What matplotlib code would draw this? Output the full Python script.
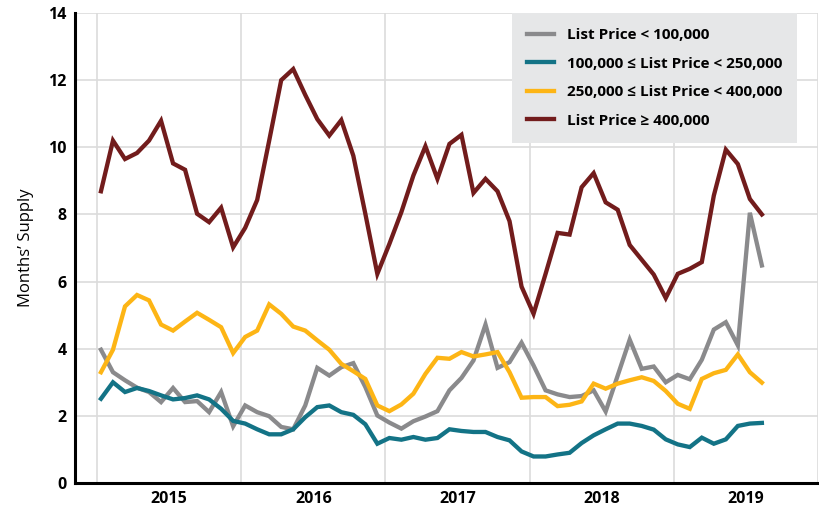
import numpy as np
import matplotlib.pyplot as plt

# monthly months'-supply values, Jan 2015 .. Aug 2019
under_100k = [3.97, 3.3, 3.06, 2.84, 2.71, 2.41, 2.83, 2.41, 2.44, 2.11, 2.71, 1.69,
              2.31, 2.11, 1.99, 1.67, 1.6, 2.31, 3.43, 3.2, 3.45, 3.57, 2.86, 2.01,
              1.8, 1.62, 1.84, 1.98, 2.14, 2.76, 3.13, 3.65, 4.72, 3.43, 3.6, 4.18,
              3.5, 2.76, 2.64, 2.56, 2.59, 2.76, 2.13, 3.2, 4.27, 3.4, 3.47, 3.0,
              3.22, 3.09, 3.67, 4.57, 4.79, 4.1, 8.05, 6.48]
p100_250k = [2.51, 3.0, 2.71, 2.83, 2.74, 2.61, 2.49, 2.53, 2.61, 2.49, 2.21, 1.85,
             1.77, 1.6, 1.45, 1.45, 1.6, 1.96, 2.26, 2.31, 2.11, 2.03, 1.75, 1.17,
             1.34, 1.29, 1.37, 1.29, 1.34, 1.6, 1.55, 1.52, 1.52, 1.37, 1.27, 0.94,
             0.79, 0.79, 0.85, 0.9, 1.19, 1.42, 1.6, 1.77, 1.77, 1.7, 1.59, 1.3,
             1.15, 1.07, 1.35, 1.17, 1.3, 1.7, 1.77, 1.79]
p250_400k = [3.3, 3.97, 5.26, 5.6, 5.44, 4.72, 4.54, 4.81, 5.07, 4.86, 4.64, 3.87,
             4.35, 4.54, 5.32, 5.04, 4.66, 4.54, 4.25, 3.97, 3.55, 3.33, 3.1, 2.31,
             2.14, 2.34, 2.66, 3.25, 3.73, 3.7, 3.9, 3.77, 3.83, 3.9, 3.3, 2.54,
             2.56, 2.56, 2.29, 2.33, 2.43, 2.96, 2.81, 2.96, 3.06, 3.15, 3.04, 2.74,
             2.36, 2.21, 3.1, 3.27, 3.37, 3.83, 3.3, 2.99]
over_400k = [8.69, 10.2, 9.65, 9.83, 10.2, 10.79, 9.52, 9.33, 8.02, 7.77, 8.2, 7.02,
             7.6, 8.43, 10.2, 12.0, 12.33, 11.56, 10.84, 10.35, 10.81, 9.75, 8.02, 6.23,
             7.12, 8.07, 9.16, 10.03, 9.06, 10.1, 10.37, 8.64, 9.06, 8.69, 7.8, 5.85,
             5.04, 6.23, 7.45, 7.4, 8.81, 9.23, 8.36, 8.14, 7.09, 6.65, 6.21, 5.51,
             6.23, 6.38, 6.58, 8.56, 9.93, 9.5, 8.46, 8.0]
years = ['2015', '2016', '2017', '2018', '2019']

series = [
    ('List Price < 100,000', under_100k, '#8a8a8c'),
    ('100,000 ≤ List Price < 250,000', p100_250k, '#137386'),
    ('250,000 ≤ List Price < 400,000', p250_400k, '#fdb515'),
    ('List Price ≥ 400,000', over_400k, '#721c1c'),
]

plt.rcParams['font.family'] = ['Open Sans', 'DejaVu Sans']

fig = plt.figure(figsize=(8.2, 5.12), dpi=100)
ax = fig.add_axes([75/820, 29/512, 743/820, 470/512])

x = np.arange(len(under_100k))
for name, vals, col in series:
    ax.plot(x, vals, color=col, lw=3.1, label=name, solid_joinstyle='miter')

bounds = np.arange(len(years) + 1) * 12 - 0.33
ax.set_xlim(-2.16, bounds[-1])
ax.set_ylim(0, 14)
ax.set_yticks(np.arange(0, 15, 2))
ax.set_xticks(bounds[:-1] + 6)
ax.set_xticklabels(years)
ax.set_xticks(bounds, minor=True)
ax.grid(True, which='minor', axis='x', color='#dcdcdc', lw=1.2)
ax.grid(True, which='major', axis='y', color='#dcdcdc', lw=1.2)
ax.set_axisbelow(True)
ax.tick_params(which='both', length=0)
ax.tick_params(axis='both', labelsize=11.5, pad=6)
for lbl in ax.get_xticklabels() + ax.get_yticklabels():
    lbl.set_fontweight('bold')
for s in ['top', 'right']:
    ax.spines[s].set_visible(False)
for s in ['left', 'bottom']:
    ax.spines[s].set_linewidth(2.2)
    ax.spines[s].set_color('black')

ax.set_ylabel('Months’ Supply', fontsize=12, labelpad=10)

leg = ax.legend(loc='upper right', bbox_to_anchor=(0.972, 1.0), borderaxespad=0,
                fancybox=False, framealpha=1, facecolor='#e6e7e8', edgecolor='none',
                prop={'weight': 'bold', 'size': 11}, handlelength=1.8,
                labelspacing=0.95, borderpad=1.0)

fig.savefig('out.png', dpi=100)
